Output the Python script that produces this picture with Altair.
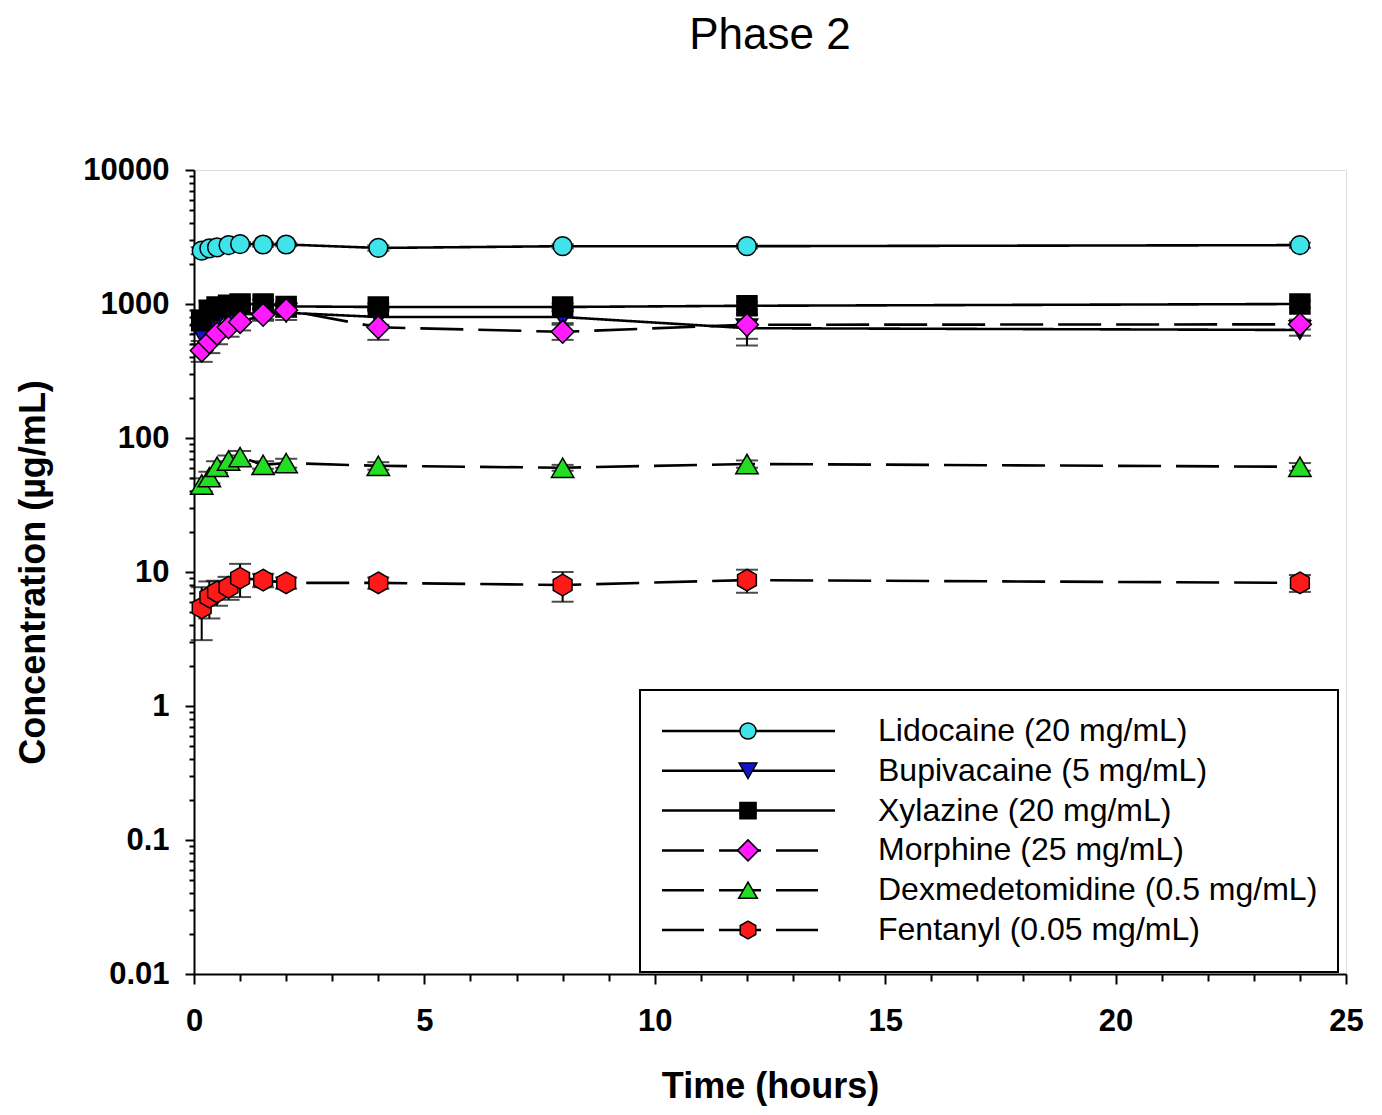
import altair as alt
import pandas as pd

# ---------------- data ----------------
times = [0.167, 0.333, 0.5, 0.75, 1, 1.5, 2, 4, 8, 12, 24]

series = [
    "Lidocaine (20 mg/mL)",
    "Bupivacaine (5 mg/mL)",
    "Xylazine (20 mg/mL)",
    "Morphine (25 mg/mL)",
    "Dexmedetomidine (0.5 mg/mL)",
    "Fentanyl (0.05 mg/mL)",
]

lidocaine = [2500, 2600, 2650, 2750, 2800, 2780, 2780, 2620, 2700, 2700, 2750]
lidocaine_sd = [150, 100, 100, 100, 100, 100, 80, 120, 100, 100, 120]

bupivacaine = [600, 700, 780, 820, 850, 850, 860, 800, 800, 660, 640]
bupivacaine_sd = [100, 100, 100, 100, 100, 80, 100, 100, 80, 170, 60]

xylazine = [750, 900, 950, 980, 1000, 1000, 960, 950, 950, 970, 1000]
xylazine_sd = [150, 150, 100, 100, 80, 80, 80, 60, 60, 70, 60]

morphine = [450, 520, 600, 670, 735, 830, 900, 670, 620, 700, 705]
morphine_sd = [80, 90, 100, 100, 100, 80, 100, 130, 80, 150, 60]

dexmed = [45, 51, 61, 68, 72, 63, 65, 62, 60, 64, 61]
dexmed_sd = [5, 5, 6, 6, 8, 4, 5, 4, 3, 4, 4]

fentanyl = [5.4, 6.5, 7.1, 7.7, 9.0, 8.7, 8.3, 8.3, 8.0, 8.7, 8.3]
fentanyl_sd = [2.3, 2.0, 1.5, 1.5, 2.5, 1.0, 0.8, 0.8, 2.0, 1.7, 1.2]

means = [lidocaine, bupivacaine, xylazine, morphine, dexmed, fentanyl]
sds = [lidocaine_sd, bupivacaine_sd, xylazine_sd, morphine_sd, dexmed_sd, fentanyl_sd]
line_style = ["solid", "solid", "solid", "dashed", "dashed", "dashed"]

# ---------------- styles ----------------
fills = ["#3fe3ea", "#1414c8", "#000000", "#ff1aff", "#22dd22", "#ff1a1a"]
hexagon = "M0,-1L0.866,-0.5L0.866,0.5L0,1L-0.866,0.5L-0.866,-0.5Z"
shapes = ["circle", "triangle-down", "square", "diamond", "triangle-up", hexagon]
sizes = [350, 460, 400, 520, 500, 470]
legend_sizes = [260, 320, 260, 440, 350, 320]
FONT = "Liberation Sans"

rows = []
for name, m_list, s_list, st in zip(series, means, sds, line_style):
    for t, m, s in zip(times, m_list, s_list):
        rows.append({"series": name, "time": t, "conc": m,
                     "lo": m - s, "hi": m + s, "style": st})
df = pd.DataFrame(rows)

# ---------------- scales and axes ----------------
x_values = list(range(0, 26))
y_values = []
for e in [0.01, 0.1, 1, 10, 100, 1000]:
    for k in range(1, 10):
        y_values.append(round(e * k, 6))
y_values.append(10000)

decade_test = "abs(log(datum.value)/LN10 - round(log(datum.value)/LN10)) < 0.001"

x_scale = alt.Scale(domain=[0, 25], nice=False, zero=False)
y_scale = alt.Scale(type="log", domain=[0.01, 10000], nice=False)

x_axis = alt.Axis(
    values=x_values,
    labelExpr="datum.value % 5 === 0 ? datum.label : ''",
    tickSize={"condition": {"test": "datum.value % 5 === 0", "value": 10}, "value": 7},
    tickColor="black", tickWidth=2, domainColor="black", domainWidth=2,
    labelFont=FONT, labelFontSize=31, labelFontWeight="bold", labelColor="black",
    labelPadding=22, labelOverlap=False, labelFlush=False, grid=False,
    titleFont=FONT, titleFontSize=36, titleFontWeight="bold", titleColor="black",
    titlePadding=33,
)
y_axis = alt.Axis(
    values=y_values,
    labelExpr=f"({decade_test}) ? format(datum.value, '~g') : ''",
    tickSize={"condition": {"test": decade_test, "value": 9}, "value": 5},
    tickColor="black", tickWidth=2, domainColor="black", domainWidth=2,
    labelFont=FONT, labelFontSize=31, labelFontWeight="bold", labelColor="black",
    labelPadding=16, labelOverlap=False, labelFlush=False, grid=False,
    titleFont=FONT, titleFontSize=36, titleFontWeight="bold", titleColor="black",
    titlePadding=30,
)

X = lambda f: alt.X(f, scale=x_scale, axis=x_axis, title="Time (hours)")
Y = lambda f: alt.Y(f, scale=y_scale, axis=y_axis, title="Concentration (µg/mL)")

base = alt.Chart(df)

lines = base.mark_line(color="black", strokeWidth=2.6).encode(
    x=X("time:Q"), y=Y("conc:Q"),
    detail="series:N",
    strokeDash=alt.StrokeDash("style:N", scale=alt.Scale(domain=["solid", "dashed"],
                                                          range=[[1, 0], [43, 15]]), legend=None),
)

err = base.mark_rule(color="black", strokeWidth=2).encode(
    x=X("time:Q"), y=Y("lo:Q"), y2="hi:Q")
cap_lo = base.mark_tick(orient="horizontal", size=22, thickness=2, color="black").encode(
    x=X("time:Q"), y=Y("lo:Q"))
cap_hi = base.mark_tick(orient="horizontal", size=22, thickness=2, color="black").encode(
    x=X("time:Q"), y=Y("hi:Q"))

layers = [lines, err, cap_lo, cap_hi]
for name, fc, sh, sz in zip(series, fills, shapes, sizes):
    layers.append(
        base.transform_filter(alt.datum.series == name).mark_point(
            filled=True, fill=fc, stroke="black", strokeWidth=1.5, opacity=1,
            shape=sh, size=sz,
        ).encode(x=X("time:Q"), y=Y("conc:Q"))
    )

# ---------------- legend box (drawn inside the plot) ----------------
one = pd.DataFrame({"k": [0]})
layers.append(
    alt.Chart(one).mark_rect(fill="white", stroke="black", strokeWidth=2).encode(
        x=alt.value(446), x2=alt.value(1144), y=alt.value(520), y2=alt.value(802))
)
for i, (name, fc, sh, sz, st) in enumerate(zip(series, fills, shapes, legend_sizes, line_style)):
    ry = 561 + i * 39.8
    if st == "solid":
        rule = alt.Chart(one).mark_rule(color="black", strokeWidth=2.5)
        x2 = 641
    else:
        rule = alt.Chart(one).mark_rule(color="black", strokeWidth=2.5, strokeDash=[42, 15])
        x2 = 625
    layers.append(rule.encode(x=alt.value(468), x2=alt.value(x2), y=alt.value(ry)))
    layers.append(
        alt.Chart(one).mark_point(filled=True, fill=fc, stroke="black", strokeWidth=1.5,
                                  opacity=1, shape=sh, size=sz).encode(
            x=alt.value(554), y=alt.value(ry))
    )
    layers.append(
        alt.Chart(one).mark_text(align="left", baseline="middle", font=FONT, fontSize=32,
                                 color="black").encode(
            x=alt.value(684), y=alt.value(ry), text=alt.value(name))
    )

chart = alt.layer(*layers).properties(
    width=1152, height=804,
    title=alt.TitleParams("Phase 2", font=FONT, fontSize=44, fontWeight="normal",
                          color="black", anchor="middle", offset=96),
    autosize=alt.AutoSizeParams(type="none"),
    padding={"left": 186, "top": 162, "right": 20, "bottom": 132},
).configure_view(stroke="black", strokeWidth=2).configure(background="white")

chart.save("out.html", embed_options={"renderer": "svg", "actions": False})
